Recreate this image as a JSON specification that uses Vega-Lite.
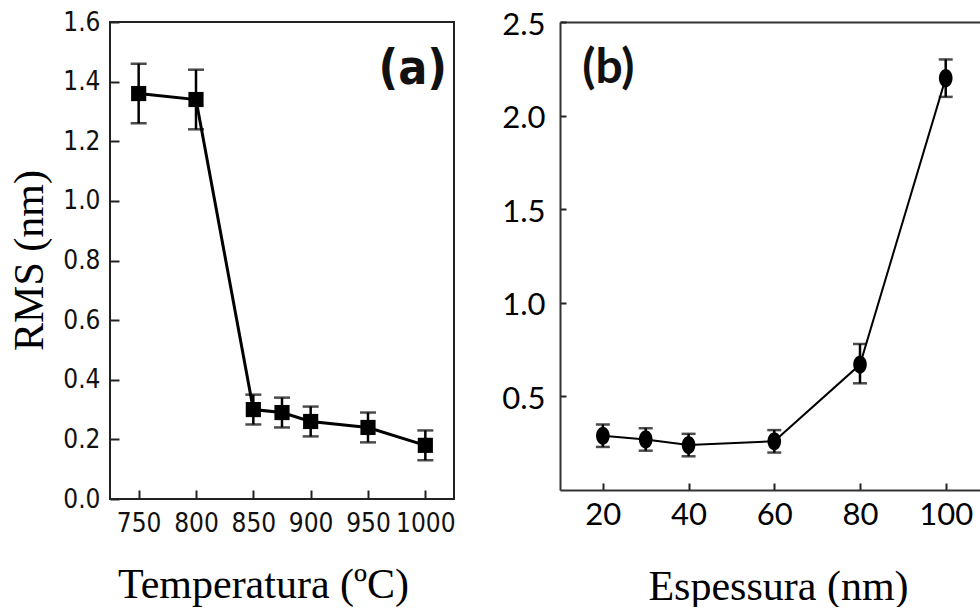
{
  "$schema": "https://vega.github.io/schema/vega-lite/v6.json",
  "padding": {"left": 7, "top": 8, "right": 0, "bottom": 0},
  "background": "white",
  "spacing": 106,
  "bounds": "flush",
  "hconcat": [
    {
      "width": 344,
      "height": 477,
      "view": {"stroke": "#222", "strokeWidth": 2},
      "data": {"values": [
        {"t": 750, "rms": 1.36, "lo": 1.26, "hi": 1.46},
        {"t": 800, "rms": 1.34, "lo": 1.24, "hi": 1.44},
        {"t": 850, "rms": 0.30, "lo": 0.25, "hi": 0.35},
        {"t": 875, "rms": 0.29, "lo": 0.24, "hi": 0.34},
        {"t": 900, "rms": 0.26, "lo": 0.21, "hi": 0.31},
        {"t": 950, "rms": 0.24, "lo": 0.19, "hi": 0.29},
        {"t": 1000, "rms": 0.18, "lo": 0.13, "hi": 0.23}
      ]},
      "layer": [
        {
          "mark": {"type": "errorbar", "color": "#000", "ticks": {"size": 16, "thickness": 2.5, "color": "#000"}, "rule": {"strokeWidth": 2.5, "color": "#000"}},
          "encoding": {
            "x": {"field": "t", "type": "quantitative", "scale": {"domain": [725, 1025], "nice": false, "zero": false},
              "axis": {
                "title": "Temperatura (ºC)", "titleFont": "Liberation Serif", "titleFontSize": 42, "titleFontWeight": "normal", "titleColor": "#000",
                "titleAlign": "center", "titleBaseline": "alphabetic", "titleX": 153, "titleY": 98,
                "values": [750, 775, 800, 825, 850, 875, 900, 925, 950, 975, 1000],
                "labelExpr": "datum.value % 50 === 0 ? format(datum.value, 'd') : ''",
                "labelFont": "DejaVu Sans Condensed, Roboto, sans-serif", "labelFontSize": 26, "labelColor": "#111", "labelPadding": 20,
                "labelOverlap": false, "labelFlush": false,
                "tickSize": {"condition": {"test": "datum.value % 50 === 0", "value": -9}, "value": -5},
                "tickColor": "#222", "tickWidth": 2, "domain": false, "grid": false
              }},
            "y": {"field": "lo", "type": "quantitative", "scale": {"domain": [0, 1.6], "nice": false, "zero": false},
              "axis": {
                "title": "RMS (nm)", "titleFont": "Liberation Serif", "titleFontSize": 42, "titleFontWeight": "normal", "titleColor": "#000",
                "titleAngle": -90, "titleAlign": "center", "titleBaseline": "alphabetic", "titleX": -68, "titleY": 238,
                "values": [0, 0.1, 0.2, 0.3, 0.4, 0.5, 0.6, 0.7, 0.8, 0.9, 1.0, 1.1, 1.2, 1.3, 1.4, 1.5, 1.6],
                "labelExpr": "round(datum.value * 10) % 2 === 0 ? format(datum.value, '.1f') : ''",
                "labelFont": "DejaVu Sans Condensed, Roboto, sans-serif", "labelFontSize": 26, "labelColor": "#111", "labelPadding": 19,
                "labelOverlap": false, "labelFlush": false,
                "tickSize": {"condition": {"test": "round(datum.value * 10) % 2 === 0", "value": -9}, "value": -5},
                "tickColor": "#222", "tickWidth": 2, "domain": false, "grid": false
              }},
            "y2": {"field": "hi"}
          }
        },
        {
          "mark": {"type": "line", "color": "#000", "strokeWidth": 3},
          "encoding": {
            "x": {"field": "t", "type": "quantitative", "scale": {"domain": [725, 1025], "nice": false, "zero": false}},
            "y": {"field": "rms", "type": "quantitative", "scale": {"domain": [0, 1.6], "nice": false, "zero": false}}
          }
        },
        {
          "mark": {"type": "point", "shape": "square", "filled": true, "size": 230, "color": "#000", "opacity": 1},
          "encoding": {
            "x": {"field": "t", "type": "quantitative", "scale": {"domain": [725, 1025], "nice": false, "zero": false}},
            "y": {"field": "rms", "type": "quantitative", "scale": {"domain": [0, 1.6], "nice": false, "zero": false}}
          }
        },
        {
          "data": {"values": [{"tx": 989, "ty": 1.44, "label": "(a)"}]},
          "mark": {"type": "text", "font": "DejaVu Sans Condensed, Roboto, sans-serif", "fontSize": 48, "fontWeight": "bold", "align": "center", "baseline": "middle", "color": "#111"},
          "encoding": {
            "x": {"field": "tx", "type": "quantitative", "scale": {"domain": [725, 1025], "nice": false, "zero": false}},
            "y": {"field": "ty", "type": "quantitative", "scale": {"domain": [0, 1.6], "nice": false, "zero": false}},
            "text": {"field": "label"}
          }
        }
      ]
    },
    {
      "width": 420,
      "height": 468,
      "view": {"stroke": null},
      "data": {"values": [
        {"e": 20, "rms": 0.29, "lo": 0.23, "hi": 0.35},
        {"e": 30, "rms": 0.27, "lo": 0.21, "hi": 0.33},
        {"e": 40, "rms": 0.24, "lo": 0.18, "hi": 0.30},
        {"e": 60, "rms": 0.26, "lo": 0.20, "hi": 0.32},
        {"e": 80, "rms": 0.67, "lo": 0.57, "hi": 0.78},
        {"e": 100, "rms": 2.20, "lo": 2.10, "hi": 2.30}
      ]},
      "resolve": {"axis": {"x": "independent"}},
      "layer": [
        {
          "mark": {"type": "errorbar", "color": "#000", "ticks": {"size": 14, "thickness": 2.5, "color": "#000"}, "rule": {"strokeWidth": 2.5, "color": "#000"}},
          "encoding": {
            "x": {"field": "e", "type": "quantitative", "scale": {"domain": [10, 108], "nice": false, "zero": false}, "axis": null},
            "y": {"field": "lo", "type": "quantitative", "scale": {"domain": [0, 2.5], "nice": false, "zero": false},
              "axis": {
                "title": null,
                "values": [0.5, 1.0, 1.5, 2.0, 2.5], "format": ".1f",
                "labelFont": "Lato", "labelFontSize": 31, "labelColor": "#000", "labelPadding": 21, "labelOffset": 3,
                "labelOverlap": false, "labelFlush": false,
                "tickSize": -6, "tickColor": "#222", "tickWidth": 2,
                "domain": true, "domainColor": "#333", "domainWidth": 2, "grid": false
              }},
            "y2": {"field": "hi"}
          }
        },
        {
          "mark": {"type": "line", "color": "#000", "strokeWidth": 2},
          "encoding": {
            "x": {"field": "e", "type": "quantitative", "scale": {"domain": [10, 108], "nice": false, "zero": false},
              "axis": {
                "orient": "bottom",
                "title": "Espessura (nm)", "titleFont": "Liberation Serif", "titleFontSize": 42, "titleFontWeight": "normal", "titleColor": "#000",
                "titleAlign": "center", "titleBaseline": "alphabetic", "titleX": 218, "titleY": 109,
                "values": [20, 40, 60, 80, 100], "format": "d",
                "labelFont": "Lato", "labelFontSize": 31, "labelColor": "#000", "labelPadding": 17,
                "labelOverlap": false, "labelFlush": false,
                "tickSize": -7, "tickColor": "#222", "tickWidth": 2,
                "domain": true, "domainColor": "#333", "domainWidth": 2, "grid": false
              }},
            "y": {"field": "rms", "type": "quantitative", "scale": {"domain": [0, 2.5], "nice": false, "zero": false}}
          }
        },
        {
          "mark": {"type": "point", "shape": "M-0.75,0A0.75,1 0 1,0 0.75,0A0.75,1 0 1,0 -0.75,0Z", "filled": true, "size": 330, "color": "#000", "opacity": 1},
          "encoding": {
            "x": {"field": "e", "type": "quantitative", "scale": {"domain": [10, 108], "nice": false, "zero": false}, "axis": null},
            "y": {"field": "rms", "type": "quantitative", "scale": {"domain": [0, 2.5], "nice": false, "zero": false}}
          }
        },
        {
          "data": {"values": [{"tx": 21.3, "ty": 2.25, "label": "(b)"}]},
          "mark": {"type": "text", "font": "Lato", "fontSize": 48, "fontWeight": "bold", "align": "center", "baseline": "middle", "color": "#111"},
          "encoding": {
            "x": {"field": "tx", "type": "quantitative", "scale": {"domain": [10, 108], "nice": false, "zero": false},
              "axis": {"orient": "top", "title": null, "labels": false, "ticks": false, "domain": true, "domainColor": "#333", "domainWidth": 2, "grid": false}},
            "y": {"field": "ty", "type": "quantitative", "scale": {"domain": [0, 2.5], "nice": false, "zero": false}},
            "text": {"field": "label"}
          }
        }
      ]
    }
  ]
}
